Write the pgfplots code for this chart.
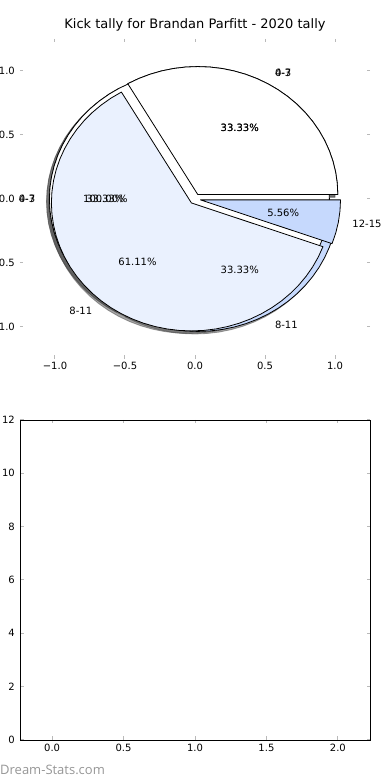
\documentclass[border=0pt]{standalone}
\usepackage{pgfplots}
\pgfplotsset{compat=1.18}
\usepackage{pgfplotstable}
\usepackage{fontspec}
\setmainfont{DejaVu Sans}[Ligatures=NoCommon]
\newfontfamily\wmfont{Open Sans}
\definecolor{lblue}{RGB}{234,241,254}
\definecolor{mblue}{RGB}{198,217,253}
\definecolor{tickgray}{RGB}{185,185,185}
\definecolor{wmgray}{RGB}{150,150,150}
\newcommand{\tickfont}{\fontsize{10bp}{12bp}\selectfont}
\newcommand{\titlefont}{\fontsize{13bp}{15bp}\selectfont}

% wedge outlines in polar form (angle in degrees, radius)
\pgfplotstableread[row sep=\\]{a r\\0 0\\0 1\\5 1\\10 1\\15 1\\20 1\\25 1\\30 1\\35 1\\40 1\\45 1\\50 1\\55 1\\60 1\\65 1\\70 1\\75 1\\80 1\\85 1\\90 1\\95 1\\100 1\\105 1\\110 1\\115 1\\120 1\\}\WA
\pgfplotstableread[row sep=\\]{a r\\0 0\\120 1\\125 1\\130 1\\135 1\\140 1\\145 1\\150 1\\155 1\\160 1\\165 1\\170 1\\175 1\\180 1\\185 1\\190 1\\195 1\\200 1\\205 1\\210 1\\215 1\\220 1\\225 1\\230 1\\235 1\\240 1\\}\WB
\pgfplotstableread[row sep=\\]{a r\\0 0\\240 1\\245 1\\250 1\\255 1\\260 1\\265 1\\270 1\\275 1\\280 1\\285 1\\290 1\\295 1\\300 1\\305 1\\310 1\\315 1\\320 1\\325 1\\330 1\\335 1\\340 1\\345 1\\350 1\\355 1\\360 1\\}\WC
\pgfplotstableread[row sep=\\]{a r\\0 1\\5 1\\10 1\\15 1\\20 1\\25 1\\30 1\\35 1\\40 1\\45 1\\50 1\\55 1\\60 1\\65 1\\70 1\\75 1\\80 1\\85 1\\90 1\\95 1\\100 1\\105 1\\110 1\\115 1\\120 1\\125 1\\130 1\\135 1\\140 1\\145 1\\150 1\\155 1\\160 1\\165 1\\170 1\\175 1\\180 1\\185 1\\190 1\\195 1\\200 1\\205 1\\210 1\\215 1\\220 1\\225 1\\230 1\\235 1\\240 1\\245 1\\250 1\\255 1\\260 1\\265 1\\270 1\\275 1\\280 1\\285 1\\290 1\\295 1\\300 1\\305 1\\310 1\\315 1\\320 1\\325 1\\330 1\\335 1\\340 1\\345 1\\350 1\\355 1\\360 1\\}\WF
\pgfplotstableread[row sep=\\]{a r\\0 0\\120 1\\125 1\\130 1\\135 1\\140 1\\145 1\\150 1\\155 1\\160 1\\165 1\\170 1\\175 1\\180 1\\185 1\\190 1\\195 1\\200 1\\205 1\\210 1\\215 1\\220 1\\225 1\\230 1\\235 1\\240 1\\245 1\\250 1\\255 1\\260 1\\265 1\\270 1\\275 1\\280 1\\285 1\\290 1\\295 1\\300 1\\305 1\\310 1\\315 1\\320 1\\325 1\\330 1\\335 1\\340 1\\}\WD
\pgfplotstableread[row sep=\\]{a r\\0 0\\340 1\\345 1\\350 1\\355 1\\360 1\\}\WE

\begin{document}
\begin{tikzpicture}
\path[use as bounding box] (0,0) rectangle (390bp,780bp);

\begin{axis}[
  at={(20bp,421bp)}, anchor=south west, scale only axis,
  width=350bp, height=320bp,
  xmin=-1.25, xmax=1.25, ymin=-1.25, ymax=1.25,
  axis line style={draw=none},
  xtick={-1,-0.5,0,0.5,1}, xticklabels={−1.0,−0.5,0.0,0.5,1.0},
  ytick={-1,-0.5,0,0.5,1}, yticklabels={−1.0,−0.5,0.0,0.5,1.0},
  tick align=inside, major tick length=3.5bp,
  tick style={draw=tickgray, line width=1bp},
  ticklabel style={font=\tickfont, inner sep=0pt},
  xticklabel style={yshift=-3bp}, yticklabel style={xshift=-5bp},
  title={Kick tally for Brandan Parfitt - 2020 tally},
  title style={font=\titlefont, anchor=base, at={(0.5,1)}, yshift=5bp, inner sep=0pt},
  clip=false,
  data cs=polar,
  every axis plot/.append style={line width=0.8bp, line join=round},
  shadow/.style={fill=black!70, draw=black!70, opacity=0.5},
]
% shadows (drawn below every wedge)
\addplot[shadow, xshift=0bp, yshift=1.87bp] table[x=a,y=r]{\WA} -- cycle;
\addplot[shadow, xshift=-8.4bp, yshift=-2.56bp] table[x=a,y=r]{\WB} -- cycle;
\addplot[shadow, xshift=0bp, yshift=-6.99bp] table[x=a,y=r]{\WC} -- cycle;
\addplot[shadow, xshift=-8.4bp, yshift=-2.56bp] table[x=a,y=r]{\WF} -- cycle;
\addplot[shadow, xshift=0bp, yshift=1.87bp] table[x=a,y=r]{\WA} -- cycle;
\addplot[shadow, xshift=-6.4bp, yshift=-6.48bp] table[x=a,y=r]{\WD} -- cycle;
\addplot[shadow, xshift=2.71bp, yshift=-3.45bp] table[x=a,y=r]{\WE} -- cycle;
% third pie: 33.33 / 33.33 / 33.33
\addplot[fill=white, draw=black, xshift=2.8bp, yshift=4.43bp] table[x=a,y=r]{\WA} -- cycle;
\addplot[fill=lblue, draw=black, xshift=-5.6bp, yshift=0bp] table[x=a,y=r]{\WB} -- cycle;
\addplot[fill=mblue, draw=black, xshift=2.8bp, yshift=-4.43bp] table[x=a,y=r]{\WC} -- cycle;
% second pie: 100
\addplot[fill=white, draw=black, xshift=-5.6bp, yshift=0bp] table[x=a,y=r]{\WF} -- cycle;
% first pie: 33.33 / 61.11 / 5.56
\addplot[fill=white, draw=black, xshift=2.8bp, yshift=4.43bp] table[x=a,y=r]{\WA} -- cycle;
\addplot[fill=lblue, draw=black, xshift=-3.6bp, yshift=-3.92bp] table[x=a,y=r]{\WD} -- cycle;
\addplot[fill=mblue, draw=black, xshift=5.51bp, yshift=-0.89bp] table[x=a,y=r]{\WE} -- cycle;

% labels
\node[font=\tickfont, inner sep=0pt] at (axis cs:0.32,0.554) {33.33\%};
\node[font=\tickfont, inner sep=0pt] at (axis cs:0.32,0.554) {33.33\%};
\node[font=\tickfont, inner sep=0pt, anchor=west] at (axis cs:0.57,0.987) {0-3};
\node[font=\tickfont, inner sep=0pt, anchor=west] at (axis cs:0.57,0.987) {4-7};
\node[font=\tickfont, inner sep=0pt] at (axis cs:-0.64,0) {100.00\%};
\node[font=\tickfont, inner sep=0pt] at (axis cs:-0.64,0) {33.33\%};
\node[font=\tickfont, inner sep=0pt, anchor=east] at (axis cs:-1.14,0) {0-3};
\node[font=\tickfont, inner sep=0pt, anchor=east] at (axis cs:-1.14,0) {4-7};
\node[font=\tickfont, inner sep=0pt] at (axis cs:-0.411,-0.49) {61.11\%};
\node[font=\tickfont, inner sep=0pt, anchor=east] at (axis cs:-0.733,-0.873) {8-11};
\node[font=\tickfont, inner sep=0pt] at (axis cs:0.63,-0.111) {5.56\%};
\node[font=\tickfont, inner sep=0pt, anchor=west] at (axis cs:1.123,-0.198) {12-15};
\node[font=\tickfont, inner sep=0pt] at (axis cs:0.32,-0.554) {33.33\%};
\node[font=\tickfont, inner sep=0pt, anchor=west] at (axis cs:0.57,-0.987) {8-11};
\end{axis}

\begin{axis}[
  at={(20bp,40bp)}, anchor=south west, scale only axis,
  width=350bp, height=320bp,
  xmin=-0.225, xmax=2.225, ymin=0, ymax=12,
  axis line style={draw=black, line width=0.8bp},
  xtick={0,0.5,1,1.5,2}, xticklabels={0.0,0.5,1.0,1.5,2.0},
  ytick={0,2,4,6,8,10,12}, yticklabels={0,2,4,6,8,10,12},
  /pgf/number format/assume math mode=true,
  tick align=inside, major tick length=3.5bp,
  tick style={draw=tickgray, line width=1bp},
  ticklabel style={font=\tickfont, inner sep=0pt},
  xticklabel style={yshift=-4bp}, yticklabel style={xshift=-5bp},
]
\end{axis}

\node[anchor=base west, inner sep=0pt, text=wmgray, font=\wmfont\fontsize{13bp}{15bp}\selectfont] at (0bp,5.5bp) {Dream-Stats.com};
\end{tikzpicture}
\end{document}
